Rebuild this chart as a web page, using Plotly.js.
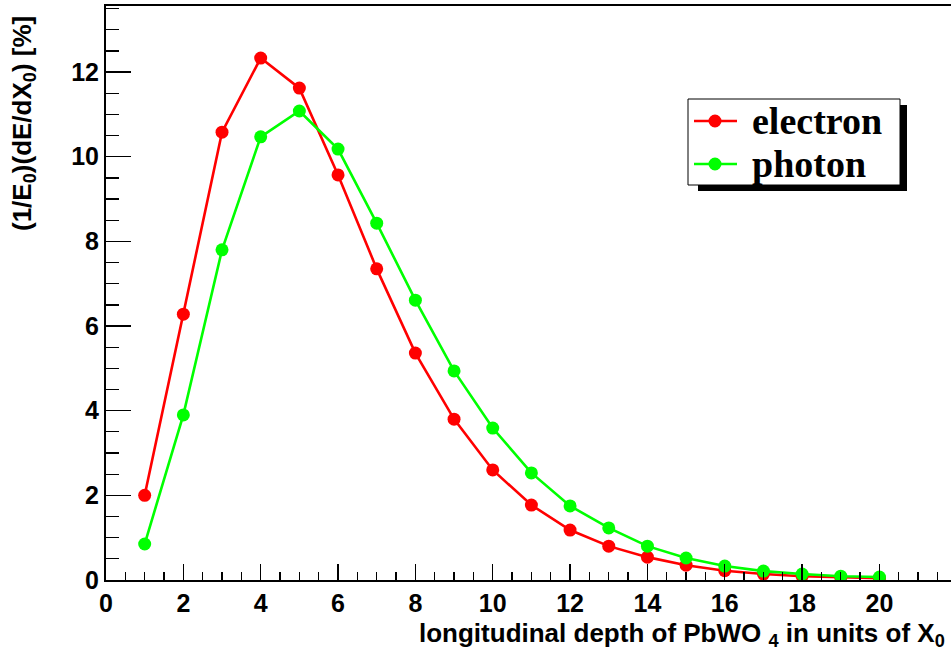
<!DOCTYPE html>
<html>
<head>
<meta charset="utf-8">
<script src="https://cdn.plot.ly/plotly-3.0.1.min.js"></script>
<style>html,body{margin:0;padding:0;background:#fff;}#chart{width:951px;height:654px;}</style>
</head>
<body>
<div id="chart"></div>
<script>
var depth = [1,2,3,4,5,6,7,8,9,10,11,12,13,14,15,16,17,18,19,20];
var electron = [2.00,6.28,10.58,12.33,11.62,9.57,7.35,5.36,3.80,2.60,1.77,1.18,0.80,0.54,0.35,0.22,0.14,0.09,0.06,0.04];
var photon = [0.85,3.90,7.80,10.47,11.08,10.18,8.43,6.61,4.94,3.59,2.53,1.75,1.23,0.80,0.52,0.33,0.21,0.14,0.09,0.07];
var seriesNames = ['electron', 'photon'];
var seriesColors = ['#ff0000', '#00ff00'];
var xTicks = [0,2,4,6,8,10,12,14,16,18,20];
var yTicks = [0,2,4,6,8,10,12];

var tickFont = {family: 'Liberation Sans, Arial, sans-serif', size: 25, color: '#000', weight: 'bold'};

var seriesData = [electron, photon];
var traces = seriesData.map(function(vals, i){
  return {x: depth, y: vals, name: seriesNames[i], type: 'scatter', mode: 'lines+markers',
    line: {color: seriesColors[i], width: 2.6},
    marker: {color: seriesColors[i], size: 13, symbol: 'circle'}};
});

var L = 106, T = 6, W = 951 - 106, H = 574;
function px(v){ return (v - L) / W; }
function py(v){ return (T + H - v) / H; }

var shapes = [
  {type: 'rect', xref: 'paper', yref: 'paper', x0: px(698), x1: px(907), y0: py(191), y1: py(105),
   fillcolor: '#000', line: {width: 0}, layer: 'above'},
  {type: 'rect', xref: 'paper', yref: 'paper', x0: px(688), x1: px(900), y0: py(185), y1: py(99),
   fillcolor: '#fff', line: {color: '#000', width: 1}, layer: 'above'}
];
var annotations = [
  {xref: 'paper', yref: 'paper', x: px(24), y: py(124), xanchor: 'center', yanchor: 'middle',
   textangle: -90, showarrow: false,
   text: '(1/E<sub>0</sub>)(dE/dX<sub>0</sub>) [%]',
   font: {family: 'Liberation Sans, Arial, sans-serif', size: 26, color: '#000', weight: 'bold'}},
  {xref: 'paper', yref: 'paper', x: px(947), y: py(616), xanchor: 'right', yanchor: 'top',
   showarrow: false,
   text: 'longitudinal depth of PbWO <sub>4</sub> in units of X<sub>0</sub>',
   font: {family: 'Liberation Sans, Arial, sans-serif', size: 26, color: '#000', weight: 'bold'}}
];
var rowY = [121, 164];
seriesNames.forEach(function(nm, i){
  shapes.push({type: 'line', xref: 'paper', yref: 'paper', x0: px(694), x1: px(737), y0: py(rowY[i]), y1: py(rowY[i]),
    line: {color: seriesColors[i], width: 2.6}, layer: 'above'});
  shapes.push({type: 'circle', xref: 'paper', yref: 'paper', x0: px(715 - 6.5), x1: px(715 + 6.5),
    y0: py(rowY[i] + 6.5), y1: py(rowY[i] - 6.5), fillcolor: seriesColors[i], line: {width: 0}, layer: 'above'});
  annotations.push({xref: 'paper', yref: 'paper', x: px(750), y: py(rowY[i]), xanchor: 'left', yanchor: 'middle',
    showarrow: false, text: nm,
    font: {family: 'Liberation Serif, Times New Roman, serif', size: 38, color: '#000', weight: 'bold'}});
});

var layout = {
  width: 951, height: 654,
  margin: {l: L, r: 0, t: T, b: 654 - T - H},
  paper_bgcolor: '#fff', plot_bgcolor: '#fff',
  showlegend: false,
  xaxis: {
    range: [0, 21.85], tickmode: 'array', tickvals: xTicks, ticktext: xTicks.map(String),
    ticks: 'inside', ticklen: 16, tickwidth: 1.3, tickcolor: '#000',
    minor: {dtick: 0.5, ticks: 'inside', ticklen: 8, tickwidth: 1.3, tickcolor: '#000'},
    showline: true, linecolor: '#000', linewidth: 2, mirror: true,
    showgrid: false, zeroline: false, tickfont: tickFont
  },
  yaxis: {
    range: [0, 13.56], tickmode: 'array', tickvals: yTicks, ticktext: yTicks.map(String),
    ticks: 'inside', ticklen: 25, tickwidth: 1.3, tickcolor: '#000',
    minor: {dtick: 0.5, ticks: 'inside', ticklen: 12.7, tickwidth: 1.3, tickcolor: '#000'},
    showline: true, linecolor: '#000', linewidth: 2,
    showgrid: false, zeroline: false, tickfont: tickFont
  },
  shapes: shapes,
  annotations: annotations
};

Plotly.newPlot('chart', traces, layout, {displayModeBar: false, staticPlot: true});
</script>
</body>
</html>
